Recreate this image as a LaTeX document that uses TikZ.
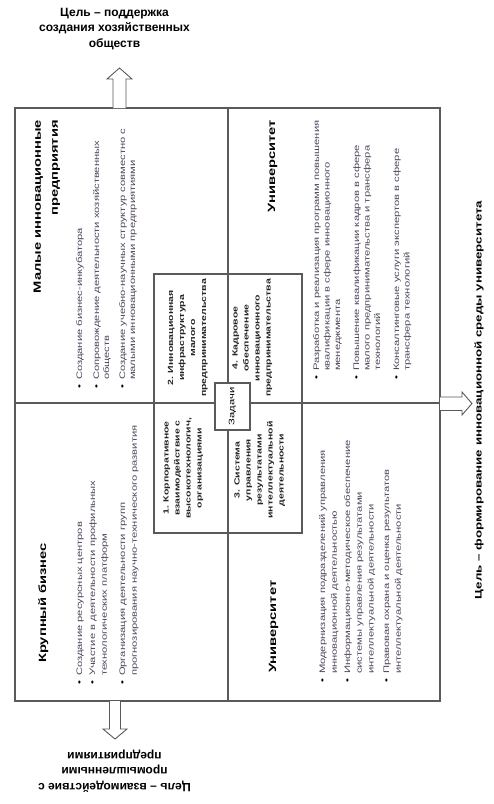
\documentclass[tikz,border=0pt]{standalone}
\usepackage{fontspec}
\setmainfont{Liberation Sans}
\usepackage{graphicx}
\definecolor{linegray}{RGB}{90,90,90}
\definecolor{txtgray}{RGB}{80,68,92}
\newcommand{\sx}[1]{\scalebox{1.4}[1]{#1}}
\newcommand{\bitem}[1]{\sx{\begin{tabular}[t]{@{}l@{\hspace{3.5pt}}l@{}}\textcolor{black}{\textbullet} & #1\end{tabular}}}
\newcommand{\ctext}[1]{\sx{\begin{tabular}{@{}c@{}}#1\end{tabular}}}
\tikzset{
  rot/.style={rotate=90, inner sep=0pt},
  frameline/.style={draw=linegray, line width=1.1pt},
  blockarrow/.style={draw=linegray, fill=white, line width=0.9pt, line join=miter},
  titlefont/.style={font=\bfseries\fontsize{10.5}{17}\selectfont},
  taskfont/.style={font=\bfseries\fontsize{7.5}{11}\selectfont, text=black!85},
  listA/.style={font=\fontsize{8}{10}\selectfont, text=txtgray},
  listB/.style={font=\fontsize{8}{10.5}\selectfont, text=txtgray},
  listC/.style={font=\fontsize{8}{11.8}\selectfont, text=txtgray},
  goalfont/.style={font=\bfseries\fontsize{12}{15.5}\selectfont, align=center, inner sep=0pt}
}
\begin{document}
\begin{tikzpicture}[x=1pt, y=-1pt]
\useasboundingbox (0,0) rectangle (494,804);
% frame
\coordinate (fTL) at (15,108);
\coordinate (fBR) at (440,701);
\coordinate (vTop) at (228,108);
\coordinate (vBot) at (228,701);
\coordinate (hL) at (15,403);
\coordinate (hR) at (440,403);
\draw[frameline] (fTL) rectangle (fBR);
\draw[frameline] (vTop) -- (vBot);
\draw[frameline] (hL) -- (hR);
% centre box
\coordinate (cTL) at (154,274);
\coordinate (cBR) at (302,533);
\draw[frameline] (cTL) rectangle (cBR);
\node[draw=linegray, line width=1.1pt, fill=white, minimum width=35pt, minimum height=47pt, inner sep=0pt] (tasks) at (232.5,406.5) {};
\node[rot, font=\fontsize{8}{10}\selectfont] (tasksT) at (tasks.center) {\sx{Задачи}};
% arrows
\coordinate (upBase) at (113,108);
\coordinate (upTip) at (119.5,68);
\draw[blockarrow] (upBase) -- ++(0,-29) -- ++(-6,0) -- (upTip) -- ++(12.5,11) -- ++(-6,0) -- ++(0,29);
\coordinate (dnBase) at (109.5,701);
\coordinate (dnTip) at (115,739);
\draw[blockarrow] (dnBase) -- ++(0,28) -- ++(-6.5,0) -- (dnTip) -- ++(12,-10) -- ++(-6.5,0) -- ++(0,-28);
\coordinate (rtBase) at (440,397);
\coordinate (rtTip) at (472,403.5);
\draw[blockarrow] (rtBase) -- ++(22,0) -- ++(0,-5) -- (rtTip) -- ++(-10,11.5) -- ++(0,-4.5) -- ++(-22,0);
% goals
\node[goalfont] (goalTop) at (114.5,29) {Цель – поддержка\\создания хозяйственных\\обществ};
\node[goalfont, rotate=180] (goalBot) at (114.5,771) {Цель – взаимодействие с\\промышленными\\предприятиями};
\node[rot, font=\bfseries\fontsize{9.5}{11}\selectfont] (goalRight) at (479,400) {\sx{Цель – формирование инновационной среды университета}};
% titles
\node[rot, titlefont, anchor=base east] (tTL) at (41,120) {\sx{\begin{tabular}[t]{@{}r@{}}Малые инновационные\\предприятия\end{tabular}}};
\node[rot, titlefont, anchor=base east] (tTR) at (275,120) {\sx{Университет}};
\node[rot, titlefont, anchor=base west] (tBL) at (46,663) {\sx{Крупный бизнес}};
\node[rot, titlefont, anchor=base west] (tBR) at (276,673) {\sx{Университет}};
% top-left list
\node[rot, listA, anchor=base west] (tl1) at (82,389) {\bitem{Создание бизнес-инкубатора}};
\node[rot, listA, anchor=base west] (tl2) at (99,389) {\bitem{Сопровождение деятельности хозяйственных\\ & обществ}};
\node[rot, listA, anchor=base west] (tl3) at (125,389) {\bitem{Создание учебно-научных структур совместно с\\ & малыми инновационными предприятиями}};
% top-right list
\node[rot, listB, anchor=base west] (tr1) at (319,380) {\bitem{Разработка и реализация программ повышения\\ & квалификации в сфере инновационного\\ & менеджмента}};
\node[rot, listB, anchor=base west] (tr2) at (359,380) {\bitem{Повышение квалификации кадров в сфере\\ & малого предпринимательства и трансфера\\ & технологий}};
\node[rot, listB, anchor=base west] (tr3) at (399,380) {\bitem{Консалтинговые услуги экспертов в сфере\\ & трансфера технологий}};
% bottom-left list
\node[rot, listC, anchor=base west] (bl1) at (82,685) {\bitem{Создание ресурсных центров}};
\node[rot, listC, anchor=base west] (bl2) at (95,685) {\bitem{Участие в деятельности профильных\\ & технологических платформ}};
\node[rot, listC, anchor=base west] (bl3) at (125,685) {\bitem{Организация деятельности групп\\ & прогнозирования научно-технического развития}};
% bottom-right list
\node[rot, listC, anchor=base west] (br1) at (325,683) {\bitem{Модернизация подразделений управления\\ & инновационной деятельностью}};
\node[rot, listC, anchor=base west] (br2) at (350,683) {\bitem{Информационно-методическое обеспечение\\ & системы управления результатами\\ & интеллектуальной деятельности}};
\node[rot, listC, anchor=base west] (br3) at (389,683) {\bitem{Правовая охрана и оценка результатов\\ & интеллектуальной деятельности}};
% tasks
\node[rot, taskfont] (task1) at (183,468) {\ctext{1. Корпоративное\\взаимодействие с\\высокотехнологич,\\организациями}};
\node[rot, taskfont] (task2) at (187.5,338) {\ctext{2. Инновационная\\инфраструктура\\малого\\предпринимательства}};
\node[rot, taskfont] (task3) at (259.5,470) {\ctext{3. Система\\управления\\результатами\\интеллектуальной\\деятельности}};
\node[rot, taskfont] (task4) at (252,338) {\ctext{4. Кадровое\\обеспечение\\инновационного\\предпринимательства}};
\end{tikzpicture}
\end{document}
